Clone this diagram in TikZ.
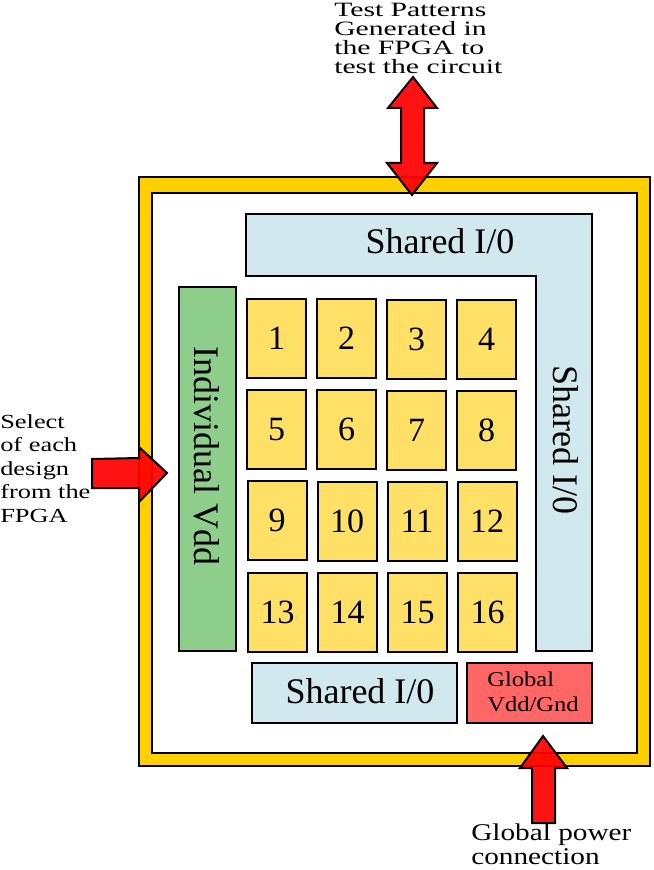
\documentclass[tikz,border=0pt]{standalone}
\usepackage{fontspec}
\setmainfont{Liberation Serif}
\usepackage{xcolor}

\definecolor{frameyellow}{RGB}{255,208,0}
\definecolor{chipyellow}{RGB}{255,224,102}
\definecolor{iolightblue}{RGB}{208,232,238}
\definecolor{vddgreen}{RGB}{140,206,138}
\definecolor{gndred}{RGB}{255,102,102}
\definecolor{arrowred}{RGB}{255,0,0}

\tikzset{
  chip/.style={draw, line width=1.5pt, fill=chipyellow, minimum width=44.25pt, minimum height=59.25pt, inner sep=0pt, font=\fontsize{25.5}{30}\selectfont},
  block/.style={draw, line width=1.5pt, inner sep=0pt},
  biglabel/.style={inner sep=0pt, font=\fontsize{27}{32}\selectfont},
  note/.style={inner sep=0pt, align=left, anchor=north west},
  bigarrow/.style={draw, line width=1.5pt, fill=arrowred, fill opacity=0.93},
}

\begin{document}
\begin{tikzpicture}[x=0.75pt, y=-0.75pt]

      \useasboundingbox (0,0) rectangle (653,870);

      % chip frame
      \draw[line width=2.2pt, fill=frameyellow] (139,177) rectangle (650,766);
      \draw[line width=2.2pt, fill=white] (152,193) rectangle (637,753);

      % shared I/O and supplies
      \draw[block, fill=iolightblue] (246,214) -- (592,214) -- (592,651) -- (536,651) -- (536,276) -- (246,276) -- cycle;
      \node[biglabel, anchor=base] (iotoptext) at (440,253) {Shared I/0};
      \node[biglabel, rotate=-90] (iorighttext) at (566,440) {Shared I/0};

      \node[block, fill=vddgreen, minimum width=42.75pt, minimum height=273pt] (vdd) at (207.5,469) {};
      \node[biglabel, rotate=-90] (vddtext) at (207,456) {Individual Vdd};

      \node[block, fill=iolightblue, minimum width=153.75pt, minimum height=45pt] (iobottom) at (354.5,693) {};
      \node[biglabel, anchor=base] (iobottomtext) at (360,703) {Shared I/0};

      \node[block, fill=gndred, minimum width=93.75pt, minimum height=45pt] (gnd) at (529.5,693) {};
      \node[note, font={\fontsize{15.75}{18.75}\selectfont\addfontfeatures{FakeStretch=1.17}\lineskiplimit=-10pt}] (gndtext) at (487,672) {Global\\Vdd/Gnd};

      % the sixteen designs
      \node[chip] (d1) at (276.5,338.5) {1};
      \node[chip] (d2) at (346.5,338.5) {2};
      \node[chip] (d3) at (416.5,339.5) {3};
      \node[chip] (d4) at (486.5,339.5) {4};
      \node[chip] (d5) at (276.5,429.5) {5};
      \node[chip] (d6) at (346.5,429.5) {6};
      \node[chip] (d7) at (416.5,430) {7};
      \node[chip] (d8) at (486.5,430) {8};
      \node[chip] (d9) at (277,520.5) {9};
      \node[chip] (d10) at (347,521) {10};
      \node[chip] (d11) at (417,521) {11};
      \node[chip] (d12) at (487,521) {12};
      \node[chip] (d13) at (277.5,612) {13};
      \node[chip] (d14) at (347.5,612) {14};
      \node[chip] (d15) at (417.5,612) {15};
      \node[chip] (d16) at (487.5,612) {16};

      % block arrows
      \draw[bigarrow] (413,77) -- (437,108) -- (424,108) -- (424,163) -- (437,163) -- (412,195) -- (387,163) -- (401,163) -- (401,108) -- (388,108) -- cycle;
      \draw[bigarrow] (92,459) -- (139,458) -- (139,447) -- (167,473) -- (139,502) -- (139,488) -- (92,488) -- cycle;
      \draw[bigarrow] (543,736) -- (567,768) -- (555,768) -- (555,823) -- (532,823) -- (532,768) -- (520,768) -- cycle;

      % notes
      \node[note, font={\fontsize{15.25}{14.3}\selectfont\addfontfeatures{FakeStretch=1.46}\lineskiplimit=-10pt}] (patterns) at (334,3) {Test Patterns\\Generated in\\the FPGA to\\test the circuit};
      \node[note, font={\fontsize{15}{17.6}\selectfont\addfontfeatures{FakeStretch=1.32}\lineskiplimit=-10pt}] (select) at (0,414) {Select\\of each\\design\\from the\\FPGA};
      \node[note, font={\fontsize{18}{17.5}\selectfont\addfontfeatures{FakeStretch=1.22}\lineskiplimit=-10pt}] (power) at (471,824) {Global power\\connection};

    \end{tikzpicture}
\end{document}
